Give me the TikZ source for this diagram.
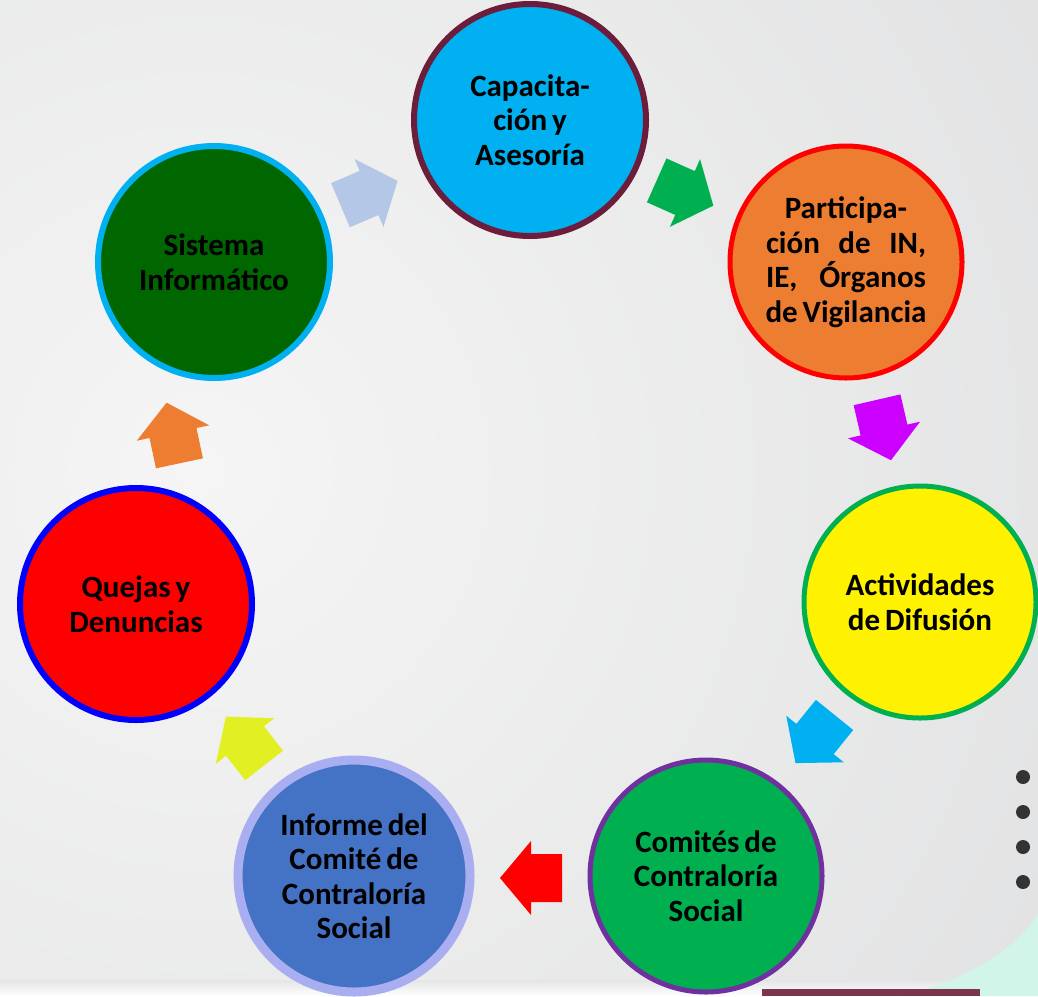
\documentclass[tikz,border=0pt]{standalone}
\usepackage{fontspec}
\setmainfont[WordSpace=0.7]{Carlito}
\usetikzlibrary{shapes}

\definecolor{bgdark}{HTML}{D2D3D5}
\definecolor{bglight}{HTML}{F5F5F5}
\definecolor{maroon}{HTML}{6D1D3C}
\definecolor{cyanc}{HTML}{00B0F0}
\definecolor{orangec}{HTML}{ED7D31}
\definecolor{greenc}{HTML}{00B050}
\definecolor{purplec}{HTML}{7030A0}
\definecolor{bluec}{HTML}{4472C4}
\definecolor{lavender}{HTML}{A9AEF0}
\definecolor{darkgreen}{HTML}{006600}
\definecolor{lightblue}{HTML}{B4C7E7}
\definecolor{magentac}{HTML}{CC00FF}
\definecolor{yellowc}{HTML}{E2EF22}
\definecolor{mint}{HTML}{D2F5EA}

\begin{document}
\begin{tikzpicture}[x=1pt,y=-1pt,
  bub/.style={circle,minimum size=232pt,inner sep=0pt,line width=6pt,align=center,
    font=\fontsize{31}{34.5}\selectfont\bfseries},
  blockarr/.pic={\fill (-31,-24) -- (0,-24) -- (0,-37) -- (31,0) -- (0,37) -- (0,24) -- (-31,24) -- cycle;}]

% Background
\useasboundingbox (0,0) rectangle (1038,996);
\begin{scope}
  \clip (0,0) rectangle (1038,996);
  \shade[inner color=bglight,outer color=bgdark] (200,470) circle (1800);
  \shade[top color=bgdark!60,bottom color=white] (0,980) rectangle (1038,996);
  \fill[mint] (900,996) .. controls (960,982) and (1010,955) .. (1038,915) -- (1038,996) -- cycle;
\end{scope}
\fill[maroon!90] (762,989) rectangle (980,996);
\foreach \yy in {777,812,847,882}
  \fill[black!80] (1023,\yy) circle (7);

% Node: Capacitacion
\node[bub,fill=cyanc,draw=maroon] (cap) at (530,120) {Capacita-\\ción y\\Asesoría};

% Node: Participacion
\node[bub,fill=orangec,draw=red,line width=5pt] (par) at (846,262)
  {Participa-\\\makebox[160pt]{ción\hfill de\hfill IN,}\\\makebox[160pt]{IE,\hfill Órganos}\\de Vigilancia};

% Node: Actividades
\node[bub,fill=yellow,draw=greenc,line width=5pt] (act) at (920,602) {Actividades\\de Difusión};

% Node: Comites
\node[bub,fill=greenc,draw=purplec,line width=5pt] (com) at (706,876) {Comités de\\Contraloría\\Social};

% Node: Informe
\node[bub,fill=bluec,draw=lavender,line width=9pt] (inf) at (354,876) {Informe del\\Comité de\\Contraloría\\Social};

% Node: Quejas
\node[bub,fill=red,draw=blue] (que) at (136,604) {Quejas y\\Denuncias};

% Node: Sistema
\node[bub,fill=darkgreen,draw=cyanc] (sis) at (214,262) {Sistema\\Informático};

% Arrows
\pic[fill=lightblue,rotate=23] at (369,193) {blockarr};
\pic[fill=greenc,rotate=-24] at (685,193) {blockarr};
\pic[fill=magentac,rotate=-77] at (884,430) {blockarr};
\pic[fill=cyanc,rotate=-129] at (815,739) {blockarr};
\pic[fill=red,rotate=180] at (531,878) {blockarr};
\pic[fill=yellowc,rotate=128] at (245,741) {blockarr};
\pic[fill=orangec,rotate=102] at (173,433) {blockarr};
%
\end{tikzpicture}
\end{document}
